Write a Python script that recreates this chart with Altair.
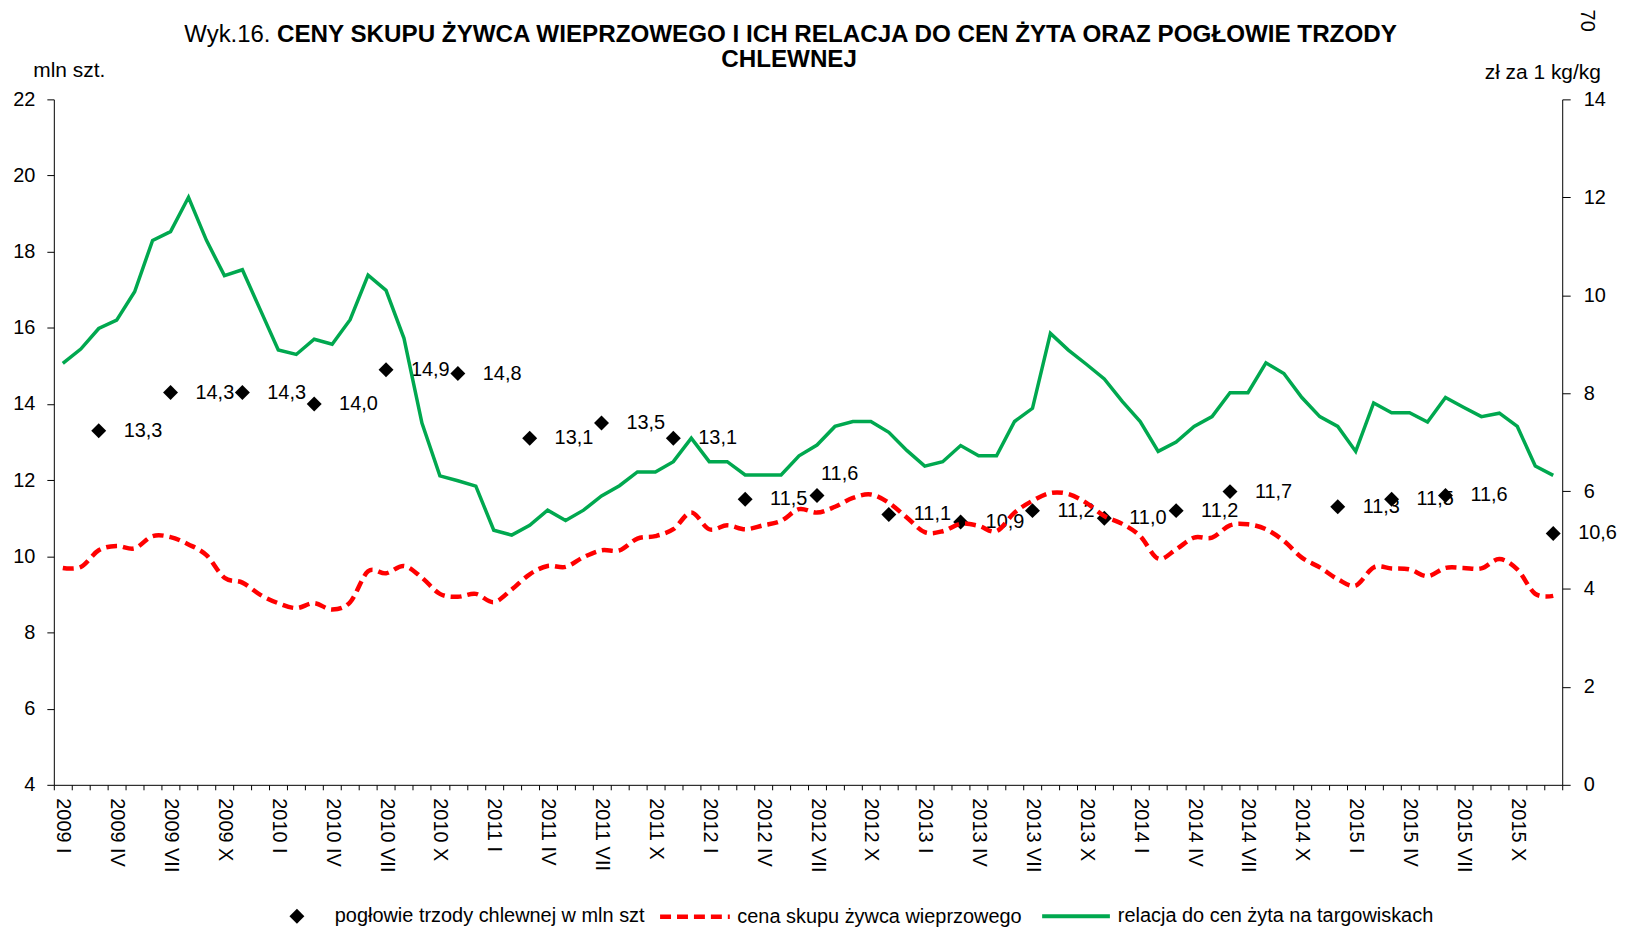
import altair as alt
import pandas as pd

FONT = "Liberation Sans, Arial, sans-serif"

romans = ["I", "II", "III", "IV", "V", "VI", "VII", "VIII", "IX", "X", "XI", "XII"]
years = [2009, 2010, 2011, 2012, 2013, 2014, 2015]
months = [f"{y} {r}" for y in years for r in romans]

# cena skupu żywca wieprzowego (zł za 1 kg) - right axis
price = [
    4.43, 4.45, 4.79, 4.88, 4.83, 5.08, 5.06, 4.91, 4.69, 4.23, 4.13, 3.88,
    3.71, 3.61, 3.71, 3.58, 3.73, 4.36, 4.32, 4.47, 4.23, 3.90, 3.84, 3.90,
    3.73, 3.99, 4.30, 4.47, 4.45, 4.65, 4.79, 4.79, 5.03, 5.08, 5.22, 5.56,
    5.22, 5.30, 5.22, 5.30, 5.39, 5.63, 5.56, 5.68, 5.86, 5.93, 5.76, 5.46,
    5.16, 5.18, 5.33, 5.29, 5.18, 5.56, 5.80, 5.96, 5.94, 5.76, 5.49, 5.33,
    5.08, 4.62, 4.81, 5.05, 5.05, 5.30, 5.32, 5.22, 4.98, 4.64, 4.44, 4.20,
    4.07, 4.44, 4.42, 4.40, 4.26, 4.43, 4.43, 4.42, 4.61, 4.40, 3.90, 3.86,
]

# relacja do cen żyta na targowiskach (kg/kg) - right axis
ratio = [
    8.61, 8.90, 9.32, 9.49, 10.07, 11.12, 11.30, 12.00, 11.12, 10.40, 10.52, 9.70,
    8.88, 8.79, 9.10, 9.00, 9.50, 10.41, 10.10, 9.12, 7.39, 6.31, 6.21, 6.10,
    5.20, 5.10, 5.30, 5.61, 5.40, 5.61, 5.90, 6.11, 6.39, 6.39, 6.60, 7.08,
    6.60, 6.60, 6.33, 6.33, 6.33, 6.72, 6.94, 7.32, 7.42, 7.42, 7.20, 6.83,
    6.51, 6.60, 6.93, 6.72, 6.72, 7.42, 7.69, 9.22, 8.88, 8.59, 8.29, 7.83,
    7.42, 6.81, 7.00, 7.32, 7.52, 8.01, 8.01, 8.62, 8.40, 7.91, 7.52, 7.32,
    6.81, 7.80, 7.60, 7.60, 7.41, 7.91, 7.71, 7.52, 7.59, 7.32, 6.51, 6.32,
]

# pogłowie trzody chlewnej (mln szt) - left axis
herd_months = [
    "2009 III", "2009 VII", "2009 XI", "2010 III", "2010 VII", "2010 XI",
    "2011 III", "2011 VII", "2011 XI", "2012 III", "2012 VII", "2012 XI",
    "2013 III", "2013 VII", "2013 XI", "2014 III", "2014 VI", "2014 XII",
    "2015 III", "2015 VI", "2015 XII",
]
herd_values = [
    13.3, 14.3, 14.3, 14.0, 14.9, 14.8,
    13.1, 13.5, 13.1, 11.5, 11.6, 11.1,
    10.9, 11.2, 11.0, 11.2, 11.7, 11.3,
    11.5, 11.6, 10.6,
]

S_HERD = "pogłowie trzody chlewnej w mln szt"
S_PRICE = "cena skupu żywca wieprzowego"
S_RATIO = "relacja do cen żyta na targowiskach"

lines_df = pd.DataFrame({"month": months, "price": price, "ratio": ratio,
                         "s_price": S_PRICE, "s_ratio": S_RATIO})
herd_df = pd.DataFrame({"month": herd_months, "value": herd_values})
herd_df["label"] = herd_df["value"].map(lambda v: f"{v:.1f}".replace(".", ","))
herd_df["series"] = S_HERD

W, H = 1514, 688

x_enc = alt.X(
    "month:N",
    bandPosition=0.5,
    scale=alt.Scale(type="band", domain=months, paddingInner=0, paddingOuter=0),
    axis=alt.Axis(
        title=None, labelAngle=90, labelAlign="left", labelBaseline="middle",
        labelExpr="indexof(['I','IV','VII','X'], split(datum.label, ' ')[1]) >= 0 ? datum.label : ''",
        tickBand="extent", tickSize=5, labelPadding=8, labelFontSize=20,
        labelFont=FONT, labelColor="black", domainColor="black", tickColor="black",
        labelOverlap=False, grid=False, labelLimit=200,
    ),
)

left_axis = alt.Axis(
    orient="left", values=list(range(4, 23, 2)), title="mln szt.", titleAngle=0,
    titleX=15, titleY=-29, titleAlign="center", titleBaseline="middle",
    titleFontSize=21, titleFontWeight="normal", titleFont=FONT, titleColor="black",
    labelFontSize=20, labelFont=FONT, labelColor="black", tickSize=7, labelPadding=12,
    domainColor="black", tickColor="black", grid=False,
)
right_axis = alt.Axis(
    orient="right", values=list(range(0, 15, 2)), title="zł za 1 kg/kg", titleAngle=0,
    titleX=-20, titleY=-27, titleAlign="center", titleBaseline="middle",
    titleFontSize=21, titleFontWeight="normal", titleFont=FONT, titleColor="black",
    labelFontSize=20, labelFont=FONT, labelColor="black", tickSize=8, labelPadding=13,
    domainColor="black", tickColor="black", grid=False,
)

y_left = alt.Y("value:Q", scale=alt.Scale(domain=[4, 22], nice=False, zero=False), axis=left_axis)

points = alt.Chart(herd_df).mark_point(shape="diamond", filled=True, size=225, opacity=1).encode(
    x=x_enc, y=y_left,
    color=alt.Color("series:N", scale=alt.Scale(range=["black"]), legend=alt.Legend(
        orient="none", legendX=234, legendY=810, title=None, symbolType="diamond",
        symbolSize=225, labelFontSize=20, labelFont=FONT, labelColor="black",
        labelOffset=28, labelLimit=600)),
)
labels = alt.Chart(herd_df).mark_text(
    align="left", baseline="middle", dx=25, fontSize=20, font=FONT, color="black"
).encode(x=x_enc, y=y_left, text="label:N").transform_filter(alt.datum.month != "2012 VII")
label_above = alt.Chart(herd_df).mark_text(
    align="left", baseline="middle", dx=4, dy=-21, fontSize=20, font=FONT, color="black"
).encode(x=x_enc, y=y_left, text="label:N").transform_filter(alt.datum.month == "2012 VII")

one = alt.Data(values=[{"k": 1}])
t1 = alt.Chart(one).mark_text(align="left", baseline="alphabetic", fontSize=24, font=FONT,
                              color="black").encode(
    x=alt.value(131), y=alt.value(-58), text=alt.value("Wyk.16."))
t2 = alt.Chart(one).mark_text(align="left", baseline="alphabetic", fontSize=24.3, font=FONT,
                              fontWeight="bold", color="black").encode(
    x=alt.value(224), y=alt.value(-58),
    text=alt.value("CENY SKUPU ŻYWCA WIEPRZOWEGO I ICH RELACJA DO CEN ŻYTA ORAZ POGŁOWIE TRZODY"))
t3 = alt.Chart(one).mark_text(align="center", baseline="alphabetic", fontSize=24.3, font=FONT,
                              fontWeight="bold", color="black").encode(
    x=alt.value(738), y=alt.value(-32), text=alt.value("CHLEWNEJ"))
t4 = alt.Chart(one).mark_text(align="center", baseline="middle", fontSize=20, font=FONT,
                              angle=90, color="black").encode(
    x=alt.value(1539), y=alt.value(-79), text=alt.value("70"))

left_group = alt.layer(points, labels, label_above, t1, t2, t3, t4)

y_scale_r = alt.Scale(domain=[0, 14], nice=False, zero=True)

red = alt.Chart(lines_df).mark_line(strokeWidth=4.5, strokeDash=[11, 6], interpolate="cardinal").encode(
    x=x_enc,
    y=alt.Y("price:Q", scale=y_scale_r, axis=right_axis),
    color=alt.Color("s_price:N", scale=alt.Scale(range=["#FF0000"]), legend=alt.Legend(
        orient="none", legendX=606, legendY=783, title=None, symbolType="stroke",
        symbolStrokeWidth=4.5, symbolSize=4900, symbolDash=[11, 6],
        labelFontSize=20, labelFont=FONT, labelColor="black", labelOffset=5, labelLimit=600)),
)
green = alt.Chart(lines_df).mark_line(strokeWidth=3.5).encode(
    x=x_enc,
    y=alt.Y("ratio:Q", scale=y_scale_r, axis=right_axis),
    color=alt.Color("s_ratio:N", scale=alt.Scale(range=["#00A84F"]), legend=alt.Legend(
        orient="none", legendX=990, legendY=784, title=None, symbolType="stroke",
        symbolStrokeWidth=4, symbolSize=4624,
        labelFontSize=20, labelFont=FONT, labelColor="black", labelOffset=6, labelLimit=600)),
)
right_group = alt.layer(red, green).resolve_scale(color="independent")

chart = alt.layer(left_group, right_group).resolve_scale(
    y="independent", color="independent"
).properties(
    width=W, height=H,
    autosize=alt.AutoSizeParams(type="none"),
    padding={"left": 46, "top": 90, "right": 56, "bottom": 143},
    background="white",
).configure_view(stroke=None)

chart.save("out.html", embed_options={"renderer": "svg", "actions": False})
